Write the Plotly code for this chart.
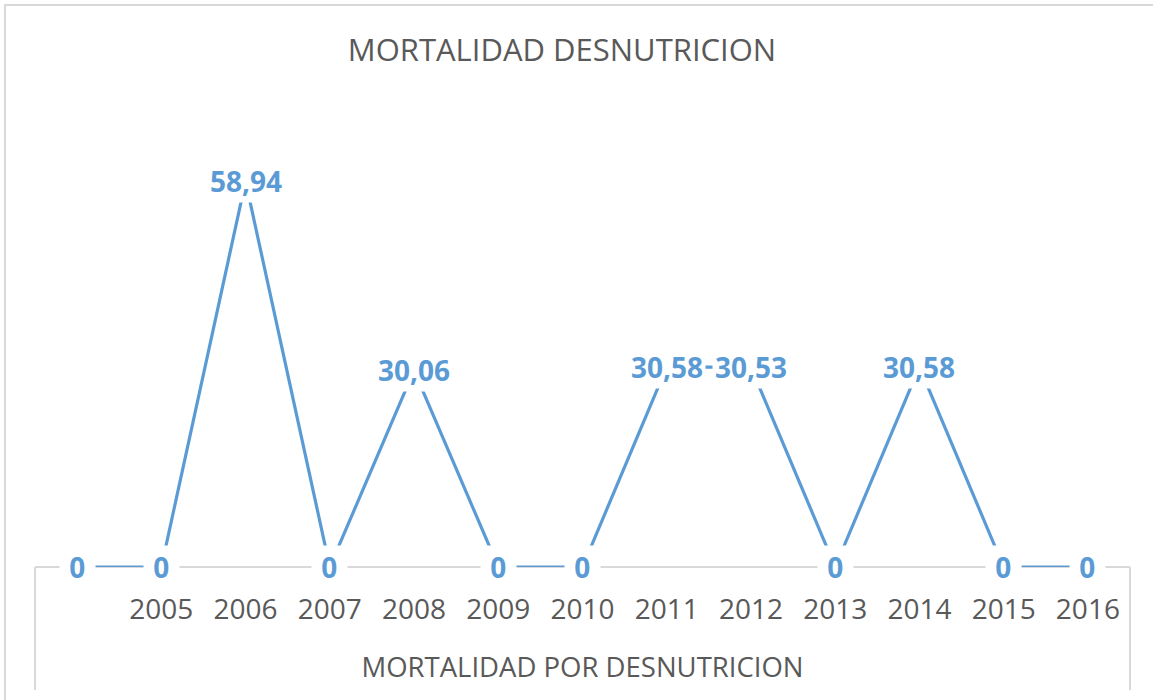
import plotly.graph_objects as go

# ---- data ----
categories = ["", "2005", "2006", "2007", "2008", "2009", "2010",
              "2011", "2012", "2013", "2014", "2015", "2016"]
values = [0, 0, 58.94, 0, 30.06, 0, 0, 30.58, 30.53, 0, 30.58, 0, 0]
value_labels = ["0", "0", "58,94", "0", "30,06", "0", "0",
                "30,58", "30,53", "0", "30,58", "0", "0"]

title_text = "MORTALIDAD DESNUTRICION"
axis_group_label = "MORTALIDAD POR DESNUTRICION"

# ---- layout geometry (pixels) ----
W, H = 1153, 700
L, R, T, B = 35, 1130, 109, 567

def px_x(px):
    return (px - L) / (R - L)

def px_y(py):
    return (B - py) / (B - T)

blue = "#5b9bd5"
gray_text = "#595959"
gray_line = "#d9d9d9"
font_family = "Open Sans, Liberation Sans, sans-serif"

idx = list(range(len(categories)))

fig = go.Figure()
fig.add_trace(go.Scatter(
    x=idx, y=values, mode="lines",
    line=dict(color=blue, width=3.2),
    hoverinfo="skip", showlegend=False,
))

annotations = []
for i, (v, lab) in enumerate(zip(values, value_labels)):
    txt = "<b>\u00a0%s\u00a0</b>" % lab if v == 0 else "<b>%s</b>" % lab
    annotations.append(dict(
        x=i, y=v, xref="x", yref="y", text=txt,
        showarrow=False, xanchor="center", yanchor="middle",
        font=dict(family=font_family, size=28, color=blue),
        bgcolor="white", borderpad=2,
    ))

shapes = [
    # axis line
    dict(type="line", xref="paper", yref="paper", x0=0, x1=1, y0=0, y1=0,
         line=dict(color=gray_line, width=2), layer="below"),
    # group bracket verticals
    dict(type="line", xref="paper", yref="paper", x0=0, x1=0,
         y0=0, y1=px_y(690), line=dict(color=gray_line, width=2)),
    dict(type="line", xref="paper", yref="paper", x0=1, x1=1,
         y0=0, y1=px_y(690), line=dict(color=gray_line, width=2)),
    # chart frame
    dict(type="rect", xref="paper", yref="paper",
         x0=px_x(5), x1=px_x(1170), y0=px_y(5), y1=px_y(720),
         line=dict(color=gray_line, width=2), fillcolor="rgba(0,0,0,0)"),
]

fig.update_layout(
    width=W, height=H,
    margin=dict(l=L, r=W - R, t=T, b=H - B),
    paper_bgcolor="white", plot_bgcolor="white",
    title=dict(text=title_text, xref="container", yref="container",
               x=562 / W, y=1 - 50 / H, xanchor="center", yanchor="middle",
               font=dict(family=font_family, size=31, color=gray_text)),
    xaxis=dict(
        range=[-0.5, len(categories) - 0.5],
        tickvals=idx, ticktext=categories,
        showgrid=False, zeroline=False, showline=False,
        ticks="outside", ticklen=17, tickcolor="rgba(0,0,0,0)",
        tickfont=dict(family=font_family, size=28, color=gray_text),
        title=dict(text=axis_group_label, standoff=32,
                   font=dict(family=font_family, size=27.5, color=gray_text)),
        fixedrange=True,
    ),
    yaxis=dict(range=[0, 70], showgrid=False, zeroline=False,
               showline=False, showticklabels=False, fixedrange=True),
    annotations=annotations,
    shapes=shapes,
)

fig.write_html("out.html",
               config={"displayModeBar": False, "staticPlot": True},
               post_script="document.body.style.margin='0';"
                           "document.body.style.overflow='hidden';")
